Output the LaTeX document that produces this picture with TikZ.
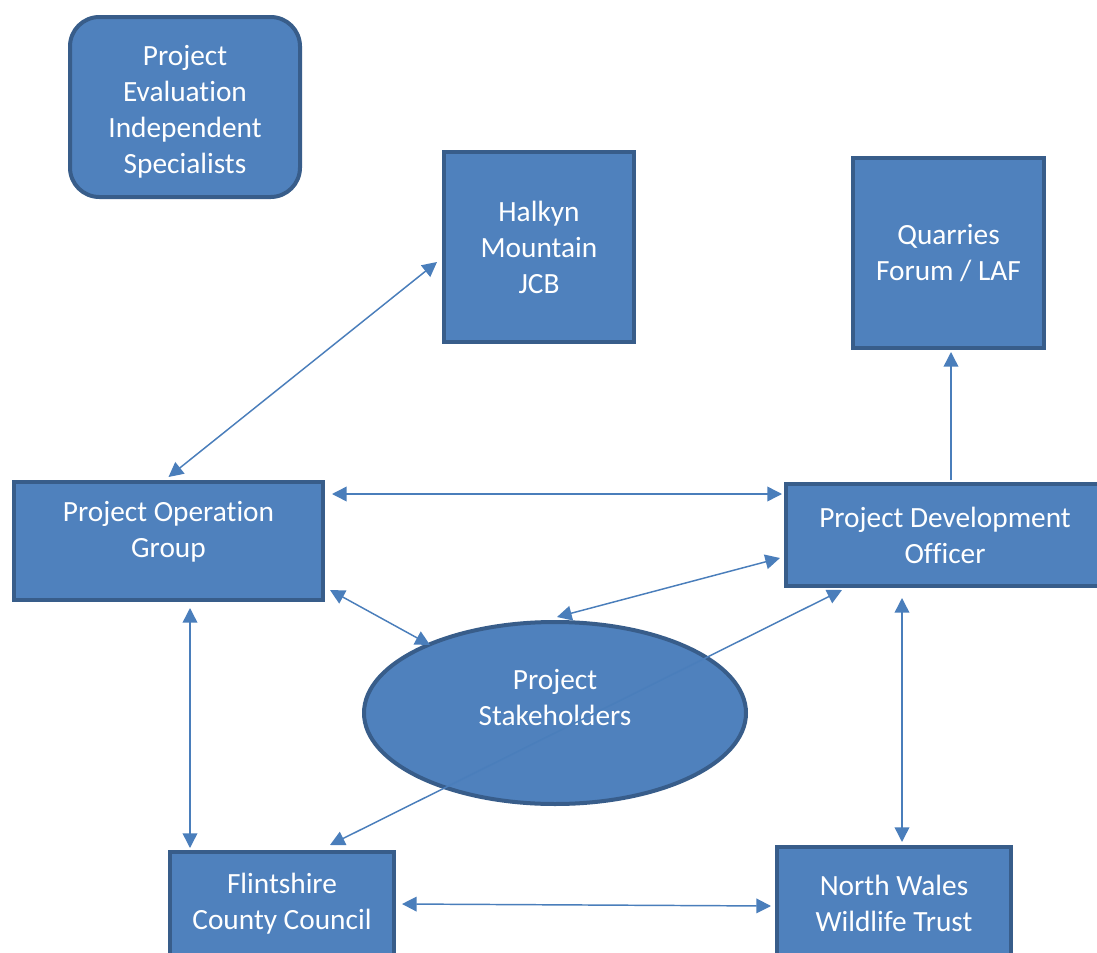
\documentclass[tikz,border=0pt]{standalone}
\usepackage{fontspec}
\setmainfont[Ligatures={NoCommon}]{Carlito}
\usetikzlibrary{arrows.meta,shapes.geometric,calc}
\definecolor{boxfill}{HTML}{4F81BD}
\definecolor{boxline}{HTML}{385D8A}
\definecolor{arrowcol}{HTML}{4A7EBB}
\tikzset{
  box/.style={draw=boxline, fill=boxfill, line width=3pt, inner sep=0pt,
    text=white, align=center, font=\fontsize{22}{27}\selectfont},
  dbl/.style={draw=arrowcol, line width=1.1pt, {Triangle[length=11pt,width=11pt]}-{Triangle[length=11pt,width=11pt]}},
  sgl/.style={draw=arrowcol, line width=1.1pt, -{Triangle[length=11pt,width=11pt]}},
  wtext/.style={text=white, align=center, font=\fontsize{22}{27}\selectfont}
}
\begin{document}
\begin{tikzpicture}[x=0.75pt,y=-0.75pt]
\useasboundingbox (0,0) rectangle (1097,953);
\clip (0,0) rectangle (1097,953);
\fill[white] (0,0) rectangle (1097,953);

\node[box, rounded corners=22pt, minimum width=172.5pt, minimum height=135pt] (peis) at (185,107) {};
\node[wtext] (peist) at (185,112) {Project\\Evaluation\\Independent\\Specialists};
\node[box, minimum width=142.5pt, minimum height=142.5pt] (halkyn) at (539,247)
  {Halkyn\\Mountain\\JCB};
\node[box, minimum width=143.25pt, minimum height=142.5pt] (quarries) at (948.5,253)
  {Quarries\\Forum / LAF};
\node[box, minimum width=231.75pt, minimum height=88.5pt] (pog) at (168.5,541) {};
\node[wtext] (pogt) at (168.5,532) {Project Operation\\Group};
\node[box, minimum width=238.5pt, minimum height=76.5pt] (pdo) at (945,535)
  {Project Development\\Officer};
\node[box, minimum width=168pt, minimum height=79.5pt] (fcc) at (282,905) {};
\node[wtext] (fcct) at (282,904) {Flintshire\\County Council};
\node[box, minimum width=175.5pt, minimum height=87pt] (nwwt) at (894,905) {};
\node[wtext] (nwwtt) at (894,903) {North Wales\\Wildlife Trust};
\node[box, ellipse, minimum width=286.5pt, minimum height=136.5pt] (stake) at (555,713) {};
\node[wtext] (staket) at (555,698) {Project\\Stakeholders};

% connectors
\draw[dbl] ($(halkyn.west)+(-5,15)$) -- ($(pog.north)+(0,-3)$);
\draw[sgl] ($(pdo.north)+(6,-2)$) -- ($(quarries.south)+(2.5,2)$);
\draw[dbl] ($(pog.east)+(7,-47)$) -- ($(pdo.west)+(-2,-41)$);
\draw[dbl] ($(pdo.west)+(-4,23)$) -- ($(stake.north)+(2,-3)$);
\draw[dbl] ($(pog.south east)+(5,-12)$) -- ($(stake.center)+(-125,-68)$);
\draw[dbl] ($(pog.south)+(21.5,6)$) -- ($(fcc.north)+(-92,-2)$);
\draw[dbl] ($(fcc.north)+(48,-5)$) -- ($(pdo.south)+(-103,2)$);
\draw[dbl] ($(pdo.south)+(-43,10)$) -- ($(nwwt.north)+(8,-3)$);
\draw[dbl] ($(fcc.east)+(6,-1)$) -- ($(nwwt.west)+(-4,1)$);
\end{tikzpicture}
\end{document}
